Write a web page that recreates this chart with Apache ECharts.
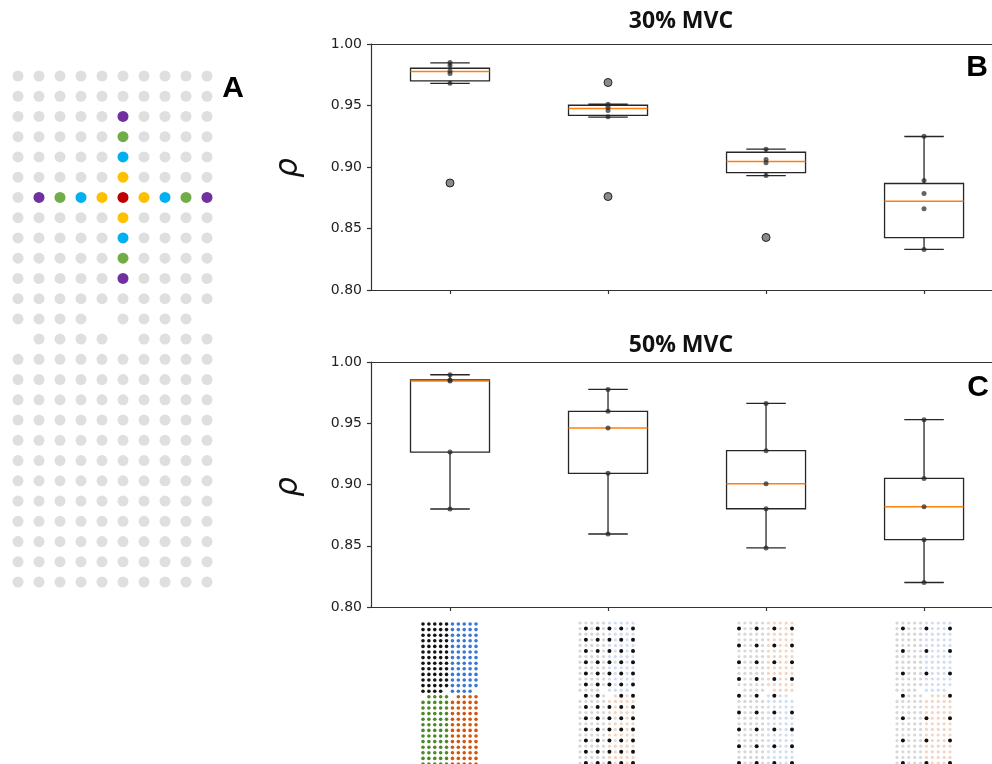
<!DOCTYPE html>
<html><head><meta charset="utf-8">
<script src="https://cdn.jsdelivr.net/npm/echarts@6/dist/echarts.min.js"></script>
<style>html,body{margin:0;padding:0;background:#fff}#c{width:992px;height:764px}</style>
</head><body><div id="c"></div>
<script>
// ---------- data ----------
const categories = ['Full grid', 'Subset 1', 'Subset 2', 'Subset 3'];
const positions = [1, 2, 3, 4];
const yTicks = [0.80, 0.85, 0.90, 0.95, 1.00];

// 30% MVC (panel B): box statistics per category
const low30  = [0.968, 0.9405, 0.893, 0.833];
const q1_30  = [0.970, 0.942, 0.8955, 0.8425];
const med30  = [0.9776, 0.9475, 0.9045, 0.8722];
const q3_30  = [0.9803, 0.9502, 0.912, 0.8866];
const high30 = [0.9847, 0.951, 0.9145, 0.9248];
const outliers30 = [[0, 0.887], [1, 0.9687], [1, 0.876], [2, 0.8427]];
const points30 = [
  [0, 0.985], [0, 0.9825], [0, 0.978], [0, 0.976], [0, 0.968],
  [1, 0.951], [1, 0.9486], [1, 0.946], [1, 0.9408],
  [2, 0.9145], [2, 0.906], [2, 0.9035], [2, 0.893],
  [3, 0.925], [3, 0.889], [3, 0.8785], [3, 0.866], [3, 0.833]
];

// 50% MVC (panel C)
const low50  = [0.880, 0.8596, 0.8482, 0.820];
const q1_50  = [0.9265, 0.9091, 0.8802, 0.855];
const med50  = [0.9845, 0.9461, 0.9007, 0.8819];
const q3_50  = [0.9853, 0.9597, 0.9276, 0.905];
const high50 = [0.9896, 0.9776, 0.9662, 0.9529];
const points50 = [
  [0, 0.9896], [0, 0.9853], [0, 0.9845], [0, 0.9265], [0, 0.880],
  [1, 0.9776], [1, 0.9597], [1, 0.9461], [1, 0.9091], [1, 0.8596],
  [2, 0.9662], [2, 0.9276], [2, 0.9007], [2, 0.8802], [2, 0.8482],
  [3, 0.9529], [3, 0.905], [3, 0.8819], [3, 0.855], [3, 0.820]
];

// electrode layout (panel A and thumbnails): 26 rows x 10 columns, 4 missing sites
const nRows = 26, nCols = 10;
const missing = [[12, 4], [12, 9], [13, 0], [13, 5]];
// highlighted electrodes in panel A: [row, col, ring]
const highlight = [
  [6, 5, 0],
  [5, 5, 1], [7, 5, 1], [6, 4, 1], [6, 6, 1],
  [4, 5, 2], [8, 5, 2], [6, 3, 2], [6, 7, 2],
  [3, 5, 3], [9, 5, 3], [6, 2, 3], [6, 8, 3],
  [2, 5, 4], [10, 5, 4], [6, 1, 4], [6, 9, 4]
];
const ringColors = ['#c00000', '#ffc000', '#00b0f0', '#70ad47', '#7030a0'];

// thumbnails: selected rows / cols (displayed coordinates)
const thumbSel = [
  null,
  { rows: [1,3,5,7,9,11,13,15,17,19,21,23,25], cols: [1,3,5,7,9], flip: false },
  { rows: [1,4,7,10,13,16,19,22,25], cols: [0,3,6,9], flip: true },
  { rows: [1,5,9,13,17,21,25], cols: [1,5,9], flip: false }
];
const quadColors = ['#141414', '#3a78d6', '#4b8a28', '#d2560d'];
const quadTints = ['#d6d6d6', '#d3ddf2', '#d8d8d8', '#f2d6c4'];

// ---------- helpers ----------
function isMissing(r, c) { return missing.some(m => m[0] === r && m[1] === c); }
function layout(flip) {
  const out = [];
  for (let r = 0; r < nRows; r++) for (let c = 0; c < nCols; c++) {
    if (isMissing(r, c)) continue;
    out.push({ r: flip ? nRows - 1 - r : r, c: c, q: (r < 13 ? 0 : 2) + (c < 5 ? 0 : 1) });
  }
  return out;
}

const lineCol = '#262626';
function boxRender(params, api) {
  const i = api.value(0);
  const lo = api.coord([i, api.value(1)]);
  const q1 = api.coord([i, api.value(2)]);
  const md = api.coord([i, api.value(3)]);
  const q3 = api.coord([i, api.value(4)]);
  const hi = api.coord([i, api.value(5)]);
  const w = api.size([0.5, 0])[0];
  const x = lo[0];
  const st = { stroke: lineCol, lineWidth: 1.3, fill: null };
  return {
    type: 'group',
    children: [
      { type: 'line', shape: { x1: x, y1: q3[1], x2: x, y2: hi[1] }, style: st },
      { type: 'line', shape: { x1: x, y1: q1[1], x2: x, y2: lo[1] }, style: st },
      { type: 'line', shape: { x1: x - w / 4, y1: hi[1], x2: x + w / 4, y2: hi[1] }, style: st },
      { type: 'line', shape: { x1: x - w / 4, y1: lo[1], x2: x + w / 4, y2: lo[1] }, style: st },
      { type: 'rect', shape: { x: x - w / 2, y: q3[1], width: w, height: q1[1] - q3[1] }, style: { fill: '#fff', stroke: lineCol, lineWidth: 1.3 } },
      { type: 'line', shape: { x1: x - w / 2, y1: md[1], x2: x + w / 2, y2: md[1] }, style: { stroke: '#ff7f0e', lineWidth: 1.5 } }
    ]
  };
}
function boxData(lo, q1, md, q3, hi) {
  return categories.map((c, i) => [positions[i], lo[i], q1[i], md[i], q3[i], hi[i]]);
}
const toPos = arr => arr.map(p => [positions[p[0]], p[1]]);

// ---------- grids ----------
const grids = [
  { left: 371, top: 44, width: 621, height: 246 },
  { left: 371, top: 362, width: 621, height: 245 },
  { left: 18, top: 76, width: 189, height: 506 },
  { left: 423, top: 624, width: 53, height: 140 },
  { left: 580, top: 623, width: 53, height: 140 },
  { left: 739, top: 623, width: 53, height: 140 },
  { left: 897, top: 623, width: 53, height: 140 }
];

const spine = { show: true, lineStyle: { color: '#333', width: 1.2 } };
const xAxes = [], yAxes = [];
[0, 1].forEach(g => {
  // visible x range of the box panels (right part is cut by the figure edge)
  xAxes.push({
    gridIndex: g, type: 'value', min: 0.5, max: 4.43, position: 'bottom',
    axisLine: spine, axisLabel: { show: false }, splitLine: { show: false },
    axisTick: { show: true, customValues: positions, length: 4, lineStyle: { color: '#333', width: 1.2 } }
  });
  yAxes.push({
    gridIndex: g, type: 'value', min: yTicks[0], max: yTicks[yTicks.length - 1], interval: 0.05,
    axisLine: spine, splitLine: { show: false },
    axisTick: { show: true, length: 4, lineStyle: { color: '#333', width: 1.2 } },
    axisLabel: { margin: 9, fontFamily: 'DejaVu Sans', fontSize: 14, color: '#222', formatter: v => v.toFixed(2) }
  });
});
for (let g = 2; g < 7; g++) {
  xAxes.push({ gridIndex: g, type: 'value', min: 0, max: nCols - 1, show: false });
  yAxes.push({ gridIndex: g, type: 'value', min: 0, max: nRows - 1, inverse: true, show: false });
}
// top spines of box panels
[0, 1].forEach(g => {
  xAxes.push({ gridIndex: g, type: 'value', min: 0.5, max: 4.43, position: 'top',
    axisLine: spine, axisTick: { show: false }, axisLabel: { show: false }, splitLine: { show: false } });
});

const series = [];
[[0, boxData(low30, q1_30, med30, q3_30, high30), outliers30, points30],
 [1, boxData(low50, q1_50, med50, q3_50, high50), [], points50]].forEach(([g, bd, outl, pts]) => {
  series.push({ type: 'custom', xAxisIndex: g, yAxisIndex: g, renderItem: boxRender, data: bd,
    encode: { x: 0, y: [1, 2, 3, 4, 5] }, z: 2, silent: true });
  series.push({ type: 'scatter', xAxisIndex: g, yAxisIndex: g, data: toPos(outl), symbolSize: 8,
    itemStyle: { color: '#8a8a8a', borderColor: '#222', borderWidth: 1, opacity: 1 }, z: 3, silent: true });
  series.push({ type: 'scatter', xAxisIndex: g, yAxisIndex: g, data: toPos(pts), symbolSize: 5,
    itemStyle: { color: 'rgba(40,40,40,0.72)', opacity: 1 }, z: 4, silent: true });
});

// panel A
const baseA = layout(false);
const isHi = (r, c) => highlight.some(h => h[0] === r && h[1] === c);
series.push({ type: 'scatter', xAxisIndex: 2, yAxisIndex: 2, symbolSize: 11, silent: true,
  itemStyle: { color: '#dfdfdf', opacity: 1 },
  data: baseA.filter(e => !isHi(e.r, e.c)).map(e => [e.c, e.r]) });
series.push({ type: 'scatter', xAxisIndex: 2, yAxisIndex: 2, symbolSize: 11, silent: true,
  itemStyle: { opacity: 1 },
  data: highlight.map(h => ({ value: [h[1], h[0]], itemStyle: { color: ringColors[h[2]], opacity: 1 } })) });

// thumbnails
for (let k = 0; k < 4; k++) {
  const sel = thumbSel[k];
  const els = layout(sel ? sel.flip : false);
  if (!sel) {
    series.push({ type: 'scatter', xAxisIndex: 3 + k, yAxisIndex: 3 + k, symbolSize: 3.6, silent: true,
      itemStyle: { opacity: 1 },
      data: els.map(e => ({ value: [e.c, e.r], itemStyle: { color: quadColors[e.q], opacity: 1 } })) });
  } else {
    const on = e => sel.rows.includes(e.r) && sel.cols.includes(e.c);
    series.push({ type: 'scatter', xAxisIndex: 3 + k, yAxisIndex: 3 + k, symbolSize: 3.2, silent: true,
      itemStyle: { opacity: 1 },
      data: els.filter(e => !on(e)).map(e => ({ value: [e.c, e.r], itemStyle: { color: quadTints[e.q], opacity: 1 } })) });
    series.push({ type: 'scatter', xAxisIndex: 3 + k, yAxisIndex: 3 + k, symbolSize: 4, silent: true,
      itemStyle: { color: '#111', opacity: 1 },
      data: els.filter(on).map(e => [e.c, e.r]) });
  }
}

const titleFont = { fontFamily: 'Open Sans', fontWeight: 'bold', fontSize: 23, fill: '#111' };
const letterFont = { fontFamily: 'Liberation Sans', fontWeight: 'bold', fontSize: 30, fill: '#000' };
const rhoFont = { fontFamily: 'DejaVu Sans', fontStyle: 'italic', fontSize: 31, fill: '#111' };

const graphic = [
  { type: 'text', x: 681, y: 21, style: Object.assign({ text: '30% MVC', align: 'center', verticalAlign: 'middle' }, titleFont) },
  { type: 'text', x: 681, y: 345, style: Object.assign({ text: '50% MVC', align: 'center', verticalAlign: 'middle' }, titleFont) },
  { type: 'text', x: 233, y: 89, style: Object.assign({ text: 'A', align: 'center', verticalAlign: 'middle' }, letterFont) },
  { type: 'text', x: 977, y: 68, style: Object.assign({ text: 'B', align: 'center', verticalAlign: 'middle' }, letterFont) },
  { type: 'text', x: 978, y: 388, style: Object.assign({ text: 'C', align: 'center', verticalAlign: 'middle' }, letterFont) },
  { type: 'text', x: 289, y: 168, rotation: Math.PI / 2, style: Object.assign({ text: 'ρ', align: 'center', verticalAlign: 'middle' }, rhoFont) },
  { type: 'text', x: 289, y: 487, rotation: Math.PI / 2, style: Object.assign({ text: 'ρ', align: 'center', verticalAlign: 'middle' }, rhoFont) }
];

const chart = echarts.init(document.getElementById('c'), null, { renderer: 'canvas' });
chart.setOption({
  animation: false,
  backgroundColor: '#fff',
  grid: grids,
  xAxis: xAxes,
  yAxis: yAxes,
  series: series,
  graphic: graphic
});
</script>
</body></html>
